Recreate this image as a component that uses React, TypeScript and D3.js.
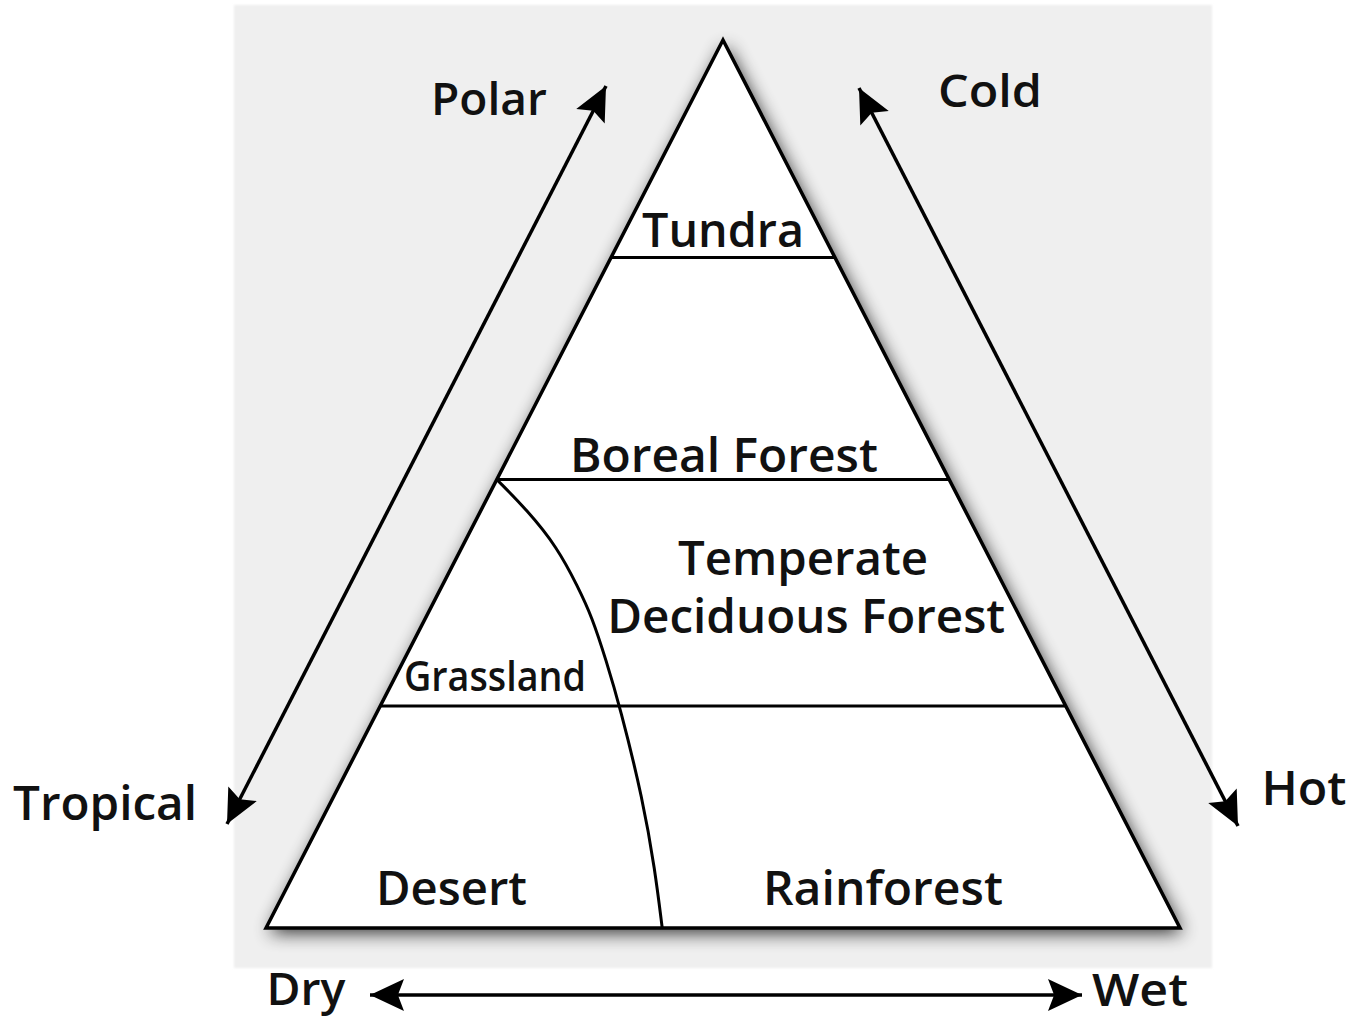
import React from "react";
import * as d3 from "d3";

// Biome triangle: x = moisture (0 dry → 1 wet), y = temperature/latitude (0 hot/tropical base → 1 cold/polar apex)
const triangleCorners: [number, number][] = [
  [0, 0],
  [0.5, 1],
  [1, 0],
];

// horizontal biome boundaries (fraction of height)
const bandBoundaries = [0.25, 0.505, 0.755];

// desert/grassland vs forest boundary curve (moisture, temperature)
const dryBoundary: [number, number][] = [
  [0.2525, 0.505],
  [0.2856, 0.4707],
  [0.3184, 0.4291],
  [0.3414, 0.384],
  [0.3567, 0.3502],
  [0.372, 0.3018],
  [0.3873, 0.2489],
  [0.4125, 0.1441],
  [0.4256, 0.0653],
  [0.4335, 0.0],
];

const biomeNames = ["Tundra", "Boreal Forest", "Temperate", "Deciduous Forest", "Grassland", "Desert", "Rainforest"];
const biomeX = [0.5, 0.501, 0.5875, 0.591, 0.2505, 0.203, 0.675];
const biomeY = [0.767, 0.5135, 0.3975, 0.332, 0.267, 0.026, 0.026];
const biomeWidths = [162, 308, 250, 398, 182, 151, 240];
const biomeSizes = [47, 47, 47, 47, 42, 47, 47];

const axisNames = ["Polar", "Cold", "Tropical", "Hot", "Dry", "Wet"];

const W = 1357;
const H = 1020;

export default function App() {
  const x = d3.scaleLinear().domain([0, 1]).range([266, 1180]);
  const y = d3.scaleLinear().domain([0, 1]).range([928, 40]);

  const tri = d3.line<[number, number]>().x((d) => x(d[0])).y((d) => y(d[1]));
  const triPath = tri(triangleCorners) + "Z";
  const curvePath = d3
    .line<[number, number]>()
    .x((d) => x(d[0]))
    .y((d) => y(d[1]))
    .curve(d3.curveBasis)(dryBoundary) as string;

  // horizontal boundary extends from left edge to right edge at fraction t
  const bandLines = bandBoundaries.map((t) => ({
    x1: x(t / 2),
    x2: x(1 - t / 2),
    y: y(t),
  }));

  const font = "'Open Sans', 'DejaVu Sans', sans-serif";

  // arrows in pixel layout
  const arrows = [
    { x1: 227, y1: 824, x2: 606, y2: 86 },
    { x1: 859, y1: 88, x2: 1238, y2: 826 },
    { x1: 370, y1: 995, x2: 1082, y2: 995 },
  ];

  const axisLayout = [
    { x: 489, y: 115, w: 116, s: 45 },
    { x: 990, y: 107, w: 104, s: 45 },
    { x: 105, y: 820, w: 184, s: 47 },
    { x: 1304, y: 805, w: 85, s: 47 },
    { x: 306, y: 1005, w: 79, s: 45 },
    { x: 1140, y: 1006, w: 96, s: 45 },
  ];

  return (
    <svg
      width={W}
      height={H}
      viewBox={`0 0 ${W} ${H}`}
      style={{ position: "absolute", left: 0, top: 0, background: "#fff" }}
    >
      <defs>
        <filter id="shadow" x="-20%" y="-20%" width="140%" height="140%">
          <feGaussianBlur stdDeviation="9" />
        </filter>
        <filter id="soft" x="-5%" y="-5%" width="110%" height="110%">
          <feGaussianBlur stdDeviation="1" />
        </filter>
      </defs>

      <rect x={234} y={5} width={978} height={963} fill="#efefef" filter="url(#soft)" />

      <path d={triPath} transform="translate(3,5)" fill="#000" opacity={0.8} filter="url(#shadow)" />
      <path d={triPath} fill="#fff" stroke="#000" strokeWidth={3.5} strokeLinejoin="miter" />

      {bandLines.map((l, i) => (
        <line key={i} x1={l.x1} x2={l.x2} y1={l.y} y2={l.y} stroke="#000" strokeWidth={3} />
      ))}
      <path d={curvePath} fill="none" stroke="#000" strokeWidth={3} />

      {biomeNames.map((n, i) => (
        <text
          key={n}
          x={x(biomeX[i])}
          y={y(biomeY[i])}
          textAnchor="middle"
          fontFamily={font}
          fontWeight={600}
          fontSize={biomeSizes[i]}
          textLength={biomeWidths[i]}
          lengthAdjust="spacingAndGlyphs"
          fill="#111"
        >
          {n}
        </text>
      ))}

      {arrows.map((a, i) => (
        <g key={i}>
          <line
            x1={a.x1}
            y1={a.y1}
            x2={a.x2}
            y2={a.y2}
            stroke="#000"
            strokeWidth={3.5}
          />
          {[
            [a.x2, a.y2, a.x1, a.y1],
            [a.x1, a.y1, a.x2, a.y2],
          ].map(([tx, ty, fx, fy], j) => {
            const ang = Math.atan2(ty - fy, tx - fx);
            const L = 34;
            const Wd = 16;
            const bx = tx - L * Math.cos(ang);
            const by = ty - L * Math.sin(ang);
            const nx = -Math.sin(ang);
            const ny = Math.cos(ang);
            const ix = tx - L * 0.82 * Math.cos(ang);
            const iy = ty - L * 0.82 * Math.sin(ang);
            const d = `M${tx},${ty} L${bx + nx * Wd},${by + ny * Wd} L${ix},${iy} L${bx - nx * Wd},${by - ny * Wd} Z`;
            return <path key={j} d={d} fill="#000" />;
          })}
        </g>
      ))}

      {axisNames.map((n, i) => (
        <text
          key={n}
          x={axisLayout[i].x}
          y={axisLayout[i].y}
          textAnchor="middle"
          fontFamily={font}
          fontWeight={600}
          fontSize={axisLayout[i].s}
          textLength={axisLayout[i].w}
          lengthAdjust="spacingAndGlyphs"
          fill="#111"
        >
          {n}
        </text>
      ))}
    </svg>
  );
}
